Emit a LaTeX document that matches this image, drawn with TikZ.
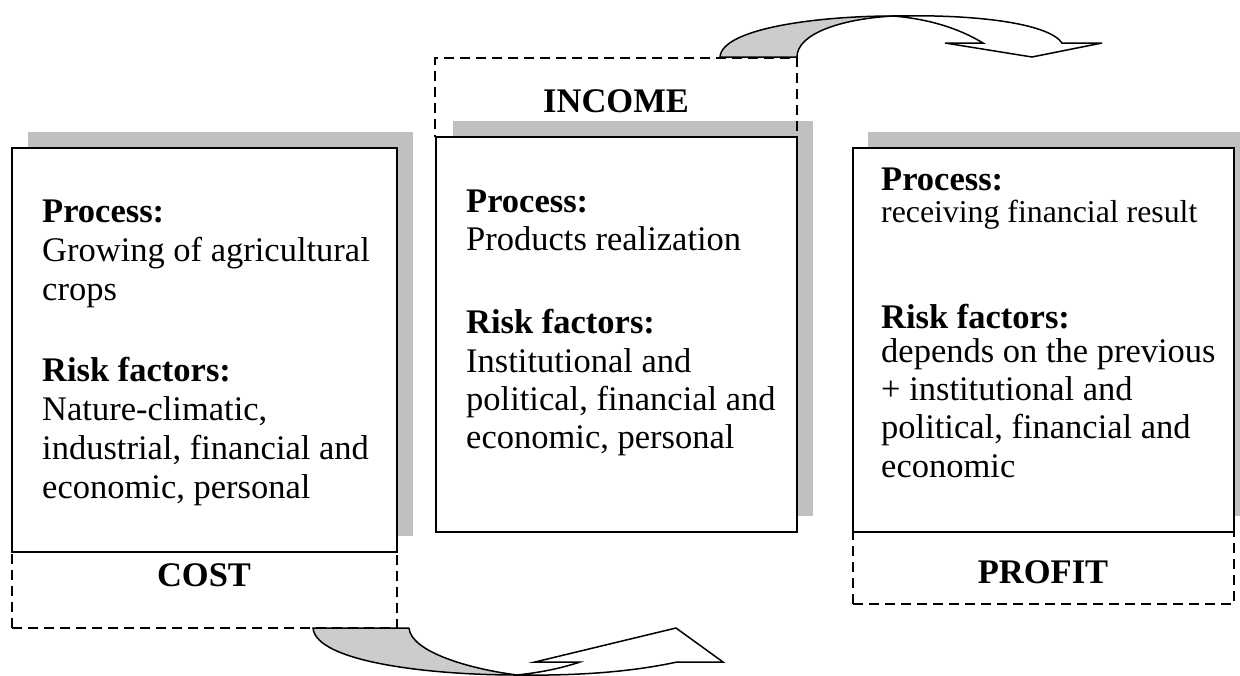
\documentclass[tikz,border=0pt]{standalone}
\usepackage{fontspec}
\setmainfont{Liberation Serif}
\definecolor{shadowgray}{HTML}{C0C0C0}
\definecolor{ribbongray}{HTML}{CCCCCC}
\begin{document}
\begin{tikzpicture}[x=1pt,y=-1pt,
  mainbox/.style={draw, line width=2pt, fill=white, anchor=north west, inner sep=0pt, outer sep=0pt},
  dashbox/.style={draw, line width=2pt, dash pattern=on 10pt off 6pt, anchor=north west, inner sep=0pt, outer sep=0pt},
  txt/.style={anchor=base west, inner sep=0pt, font=\fontsize{34.5}{39}\selectfont},
  smalltxt/.style={anchor=base west, inner sep=0pt, font=\fontsize{31.8}{36}\selectfont},
  hd/.style={anchor=base west, inner sep=0pt, font=\fontsize{34.5}{39}\selectfont\bfseries},
  ttl/.style={anchor=base, inner sep=0pt, font=\fontsize{34.5}{39}\selectfont\bfseries},
  ribbon/.style={draw, line width=1.5pt, line join=miter}]
\useasboundingbox (0,0) rectangle (1240,675);

% shadows
\fill[shadowgray] (28,132) rectangle (413,536);
\fill[shadowgray] (453,121) rectangle (813,516);
\fill[shadowgray] (868,132) rectangle (1252,516);

% dashed label boxes
\node[dashbox, minimum width=385, minimum height=76] (costlab) at (12,552) {};
\node[dashbox, minimum width=362, minimum height=79] (incomelab) at (435,58) {};
\node[dashbox, minimum width=381, minimum height=72] (profitlab) at (853,532) {};

% main boxes
\node[mainbox, minimum width=385, minimum height=404] (costbox) at (12,148) {};
\node[mainbox, minimum width=361, minimum height=395] (incomebox) at (436,137) {};
\node[mainbox, minimum width=381, minimum height=384] (profitbox) at (853,148) {};

% titles
\node[ttl] (costt) at (204,586) {COST};
\node[ttl] (incomet) at (616,112) {INCOME};
\node[ttl] (profitt) at (1043,583) {PROFIT};

% COST box text
\node[hd]  (c1) at (42,222) {Process:};
\node[txt] (c2) at (42,261) {Growing of agricultural};
\node[txt] (c3) at (42,300) {crops};
\node[hd]  (c4) at (42,381) {Risk factors:};
\node[txt] (c5) at (42,420) {Nature-climatic,};
\node[txt] (c6) at (42,459) {industrial, financial and};
\node[txt] (c7) at (42,498) {economic, personal};

% INCOME box text
\node[hd]  (i1) at (466,212) {Process:};
\node[txt] (i2) at (466,250) {Products realization};
\node[hd]  (i3) at (466,333) {Risk factors:};
\node[txt] (i4) at (466,372) {Institutional and};
\node[txt] (i5) at (466,410) {political, financial and};
\node[txt] (i6) at (466,448) {economic, personal};

% PROFIT box text
\node[hd]  (p1) at (881,190) {Process:};
\node[smalltxt] (p2) at (881,222) {receiving financial result};
\node[hd]  (p3) at (881,328) {Risk factors:};
\node[txt] (p4) at (881,362) {depends on the previous};
\node[txt] (p5) at (881,400) {+ institutional and};
\node[txt] (p6) at (881,438) {political, financial and};
\node[txt] (p7) at (881,477) {economic};

% bottom curved arrow (COST -> INCOME)
\coordinate (ba) at (313,628);
\coordinate (bb) at (409,628);
\coordinate (bc) at (517,675);
\fill[ribbongray] (ba) .. controls (316,662) and (430,675) .. (bc)
   .. controls (470,669) and (411,652) .. (bb) -- cycle;
\draw[ribbon] (bb) -- (ba) .. controls (316,662) and (430,675) .. (bc);
\draw[ribbon] (bb) .. controls (411,652) and (470,669) .. (bc);
\filldraw[ribbon, fill=white] (bc) .. controls (590,676) and (640,670) .. (677,662)
   -- (723,662) -- (676,628) -- (535,662) -- (580,662)
   .. controls (565,667) and (545,672) .. (bc);

% top curved arrow (INCOME -> PROFIT)
\coordinate (ta) at (720,57);
\coordinate (tb) at (797,57);
\coordinate (tc) at (893,16);
\fill[ribbongray] (ta) .. controls (722,28) and (820,16) .. (tc)
   .. controls (840,19) and (797,34) .. (tb) -- cycle;
\draw[ribbon] (tb) -- (ta) .. controls (722,28) and (820,16) .. (tc);
\draw[ribbon] (tb) .. controls (797,34) and (840,19) .. (tc);
\filldraw[ribbon, fill=white] (tc) .. controls (985,14) and (1050,25) .. (1062,43)
   -- (1102,43) -- (1032,57) -- (945,43) -- (983,43)
   .. controls (960,29) and (930,19) .. (tc);
\end{tikzpicture}
\end{document}
